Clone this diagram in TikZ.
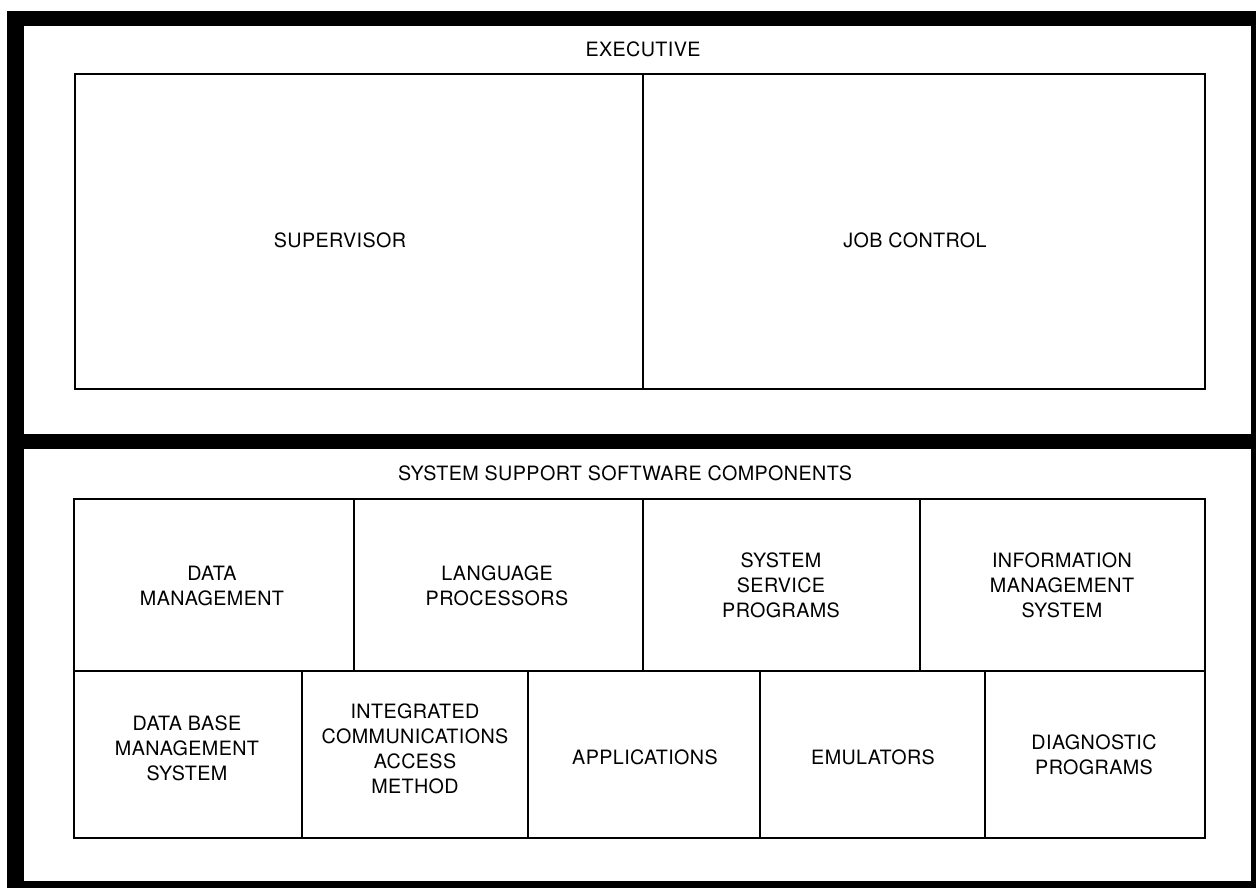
\documentclass[tikz,border=0pt]{standalone}
\usepackage{fontspec}
\setmainfont{TeX Gyre Heros}[LetterSpace=2]
\usetikzlibrary{fit}
\begin{document}
\begin{tikzpicture}[x=0.75pt,y=-0.75pt,
  cell/.style={draw, line width=1.5pt, inner sep=0pt},
  lbl/.style={font=\fontsize{14.8pt}{18.75pt}\selectfont, align=center, inner sep=0pt}]
\useasboundingbox (0,0) rectangle (1256,888);
% heavy outer frame
\fill[black] (7,11) rectangle (1256,888);
\fill[white] (24,26) rectangle (1251,434);
\fill[white] (24,449) rectangle (1251,881);
% executive
\node[cell, fit={(75,74)(643,389)}] (sup) {};
\node[cell, fit={(643,74)(1205,389)}] (job) {};
% support row 1
\node[cell, fit={(74,499)(354,671)}] (dm) {};
\node[cell, fit={(354,499)(643,671)}] (lp) {};
\node[cell, fit={(643,499)(920,671)}] (ssp) {};
\node[cell, fit={(920,499)(1205,671)}] (ims) {};
% support row 2
\node[cell, fit={(74,671)(302,838)}] (dbms) {};
\node[cell, fit={(302,671)(528,838)}] (icam) {};
\node[cell, fit={(528,671)(760,838)}] (app) {};
\node[cell, fit={(760,671)(985,838)}] (emu) {};
\node[cell, fit={(985,671)(1205,838)}] (diag) {};
% labels
\node[lbl] (lexec) at (643,49) {EXECUTIVE};
\node[lbl] (lsup) at (340,240) {SUPERVISOR};
\node[lbl] (ljob) at (915,240) {JOB CONTROL};
\node[lbl] (lsss) at (625,473) {SYSTEM SUPPORT SOFTWARE COMPONENTS};
\node[lbl] (ldm) at (212,586) {DATA\\MANAGEMENT};
\node[lbl] (llp) at (497,586) {LANGUAGE\\PROCESSORS};
\node[lbl] (lssp) at (781,585) {SYSTEM\\SERVICE\\PROGRAMS};
\node[lbl] (lims) at (1062,585) {INFORMATION\\MANAGEMENT\\SYSTEM};
\node[lbl] (ldbms) at (187,748) {DATA BASE\\MANAGEMENT\\SYSTEM};
\node[lbl] (licam) at (415,749) {INTEGRATED\\COMMUNICATIONS\\ACCESS\\METHOD};
\node[lbl] (lapp) at (645,757) {APPLICATIONS};
\node[lbl] (lemu) at (873,757) {EMULATORS};
\node[lbl] (ldiag) at (1094,755) {DIAGNOSTIC\\PROGRAMS};
\end{tikzpicture}
\end{document}
